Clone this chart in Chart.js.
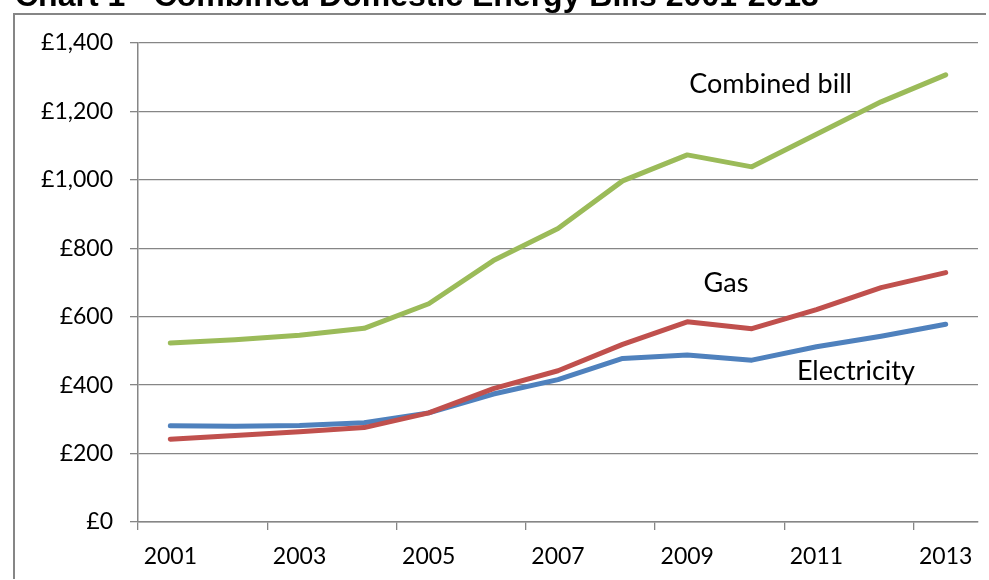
<!DOCTYPE html>
<html>
<head>
<meta charset="utf-8">
<script src="https://cdn.jsdelivr.net/npm/chart.js@4"></script>
<style>
  html, body { margin: 0; padding: 0; background: #fff; overflow: hidden; }
  #wrap { width: 989px; height: 580px; }
</style>
</head>
<body>
<div id="wrap"><canvas id="chart" width="989" height="580"></canvas></div>
<script>
// --- data ---
const years = ["2001", "2002", "2003", "2004", "2005", "2006", "2007", "2008", "2009", "2010", "2011", "2012", "2013"];
const electricity = [281, 280, 282, 290, 319, 374, 416, 478, 488, 473, 512, 543, 578];
const gas = [242, 253, 264, 276, 319, 390, 442, 519, 585, 565, 621, 685, 729];
const combined = [523, 533, 546, 566, 638, 764, 858, 997, 1073, 1038, 1133, 1228, 1307];
const yTicks = [0, 200, 400, 600, 800, 1000, 1200, 1400];

const title = "Chart 1 - Combined Domestic Energy Bills 2001-2013";
// series labels placed on the plot: [text, category position, value]
const seriesLabels = [
    ["Combined bill", 9.29, 1255],
    ["Gas", 8.6, 672],
    ["Electricity", 10.61, 415],
];

const grey = "#868686";
const font = "Lato";

const frame = {
    id: "frame",
    beforeDraw(chart) {
        const c = chart.ctx;
        c.save();
        c.fillStyle = "#fff";
        c.fillRect(0, 0, chart.width, chart.height);
        // outer chart border: only its top and left edges fall inside the picture
        c.fillStyle = grey;
        c.fillRect(13, 13, 2, chart.height - 14);
        c.fillRect(13, 13, chart.width - 16, 2);
        c.fillStyle = "#000";
        c.font = "bold 32px 'Liberation Sans'";
        c.textBaseline = "alphabetic";
        c.fillText(title, 15, 6);
        c.restore();
    },
    afterDatasetsDraw(chart) {
        const c = chart.ctx;
        const xs = chart.scales.x, ys = chart.scales.y;
        c.save();
        c.fillStyle = "#000";
        c.font = "27px " + font;
        c.textAlign = "center";
        c.textBaseline = "alphabetic";
        seriesLabels.forEach(([t, xi, v]) => {
            c.fillText(t, xs.getPixelForValue(xi), ys.getPixelForValue(v));
        });
        c.restore();
    },
};

const ctx = document.getElementById("chart").getContext("2d");
new Chart(ctx, {
    type: "line",
    data: {
        labels: years,
        datasets: [
            { label: "Combined bill", data: combined, borderColor: "#9BBB59" },
            { label: "Gas", data: gas, borderColor: "#C0504D" },
            { label: "Electricity", data: electricity, borderColor: "#4F81BD" },
        ],
    },
    options: {
        responsive: false,
        animation: false,
        layout: { padding: { left: 0, top: 43, right: 11, bottom: 0 } },
        elements: {
            line: { borderWidth: 5, tension: 0, borderCapStyle: "round", borderJoinStyle: "round", fill: false },
            point: { radius: 0, hoverRadius: 0 },
        },
        plugins: {
            legend: { display: false },
            title: { display: false },
            tooltip: { enabled: false },
        },
        scales: {
            x: {
                offset: true,
                afterFit: (s) => { s.height = 58; },
                grid: {
                    offset: true,
                    drawOnChartArea: false,
                    tickLength: 8,
                    lineWidth: 1.3,
                    color: (c) => (c.index !== undefined && c.index % 2 === 0 ? grey : "rgba(0,0,0,0)"),
                },
                border: { display: true, color: grey, width: 1.5 },
                ticks: {
                    autoSkip: false,
                    maxRotation: 0,
                    padding: 13,
                    color: "#000",
                    font: { family: font, size: 23 },
                    callback: (v, i) => (i % 2 === 0 ? years[i] : ""),
                },
            },
            y: {
                min: 0,
                max: 1400,
                afterFit: (s) => { s.width = 138; },
                afterBuildTicks: (s) => { s.ticks = yTicks.map((v) => ({ value: v })); },
                grid: { color: grey, lineWidth: 1.3, tickLength: 8 },
                border: { display: true, color: grey, width: 1.5 },
                ticks: {
                    padding: 17,
                    color: "#000",
                    font: { family: font, size: 23 },
                    callback: (v) => "£" + v.toLocaleString("en-GB"),
                },
            },
        },
    },
    plugins: [frame],
});
</script>
</body>
</html>
